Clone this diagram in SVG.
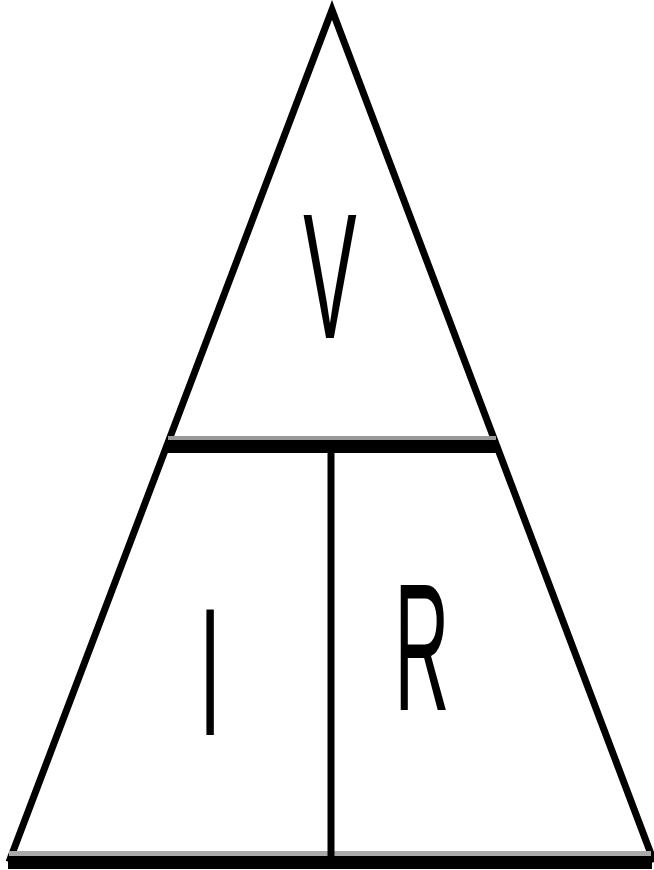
<svg xmlns="http://www.w3.org/2000/svg" width="654" height="870" viewBox="0 0 654 870">
<style>
.edge{stroke:#000;fill:none;stroke-linejoin:miter;stroke-miterlimit:20}
.lbl{font-family:"Liberation Sans",Arial,sans-serif;font-size:100px;fill:#000;text-anchor:middle}
</style>
<rect x="0" y="0" width="654" height="870" fill="#fff"/>
<g id="triangle">
<polyline class="edge" stroke-width="7" points="9,862 332,10 654,862"/>
<rect x="9" y="851" width="642" height="5" fill="#aaa"/>
<rect x="8" y="856" width="644" height="13" fill="#000"/>
</g>
<g id="connectors">
<rect x="168" y="436" width="328" height="4" fill="#999"/>
<rect x="166" y="440" width="332" height="13" fill="#000"/>
<line class="edge" stroke-width="7" x1="331" y1="447" x2="331" y2="858"/>
</g>
<g id="node-V"><text class="lbl" transform="translate(330,338) scale(0.8,1.79)">V</text></g>
<g id="node-I"><text class="lbl" transform="translate(210,735) scale(0.8,1.82)">I</text></g>
<g id="node-R"><text class="lbl" transform="translate(422,710) scale(0.76,1.82)">R</text></g>
</svg>
